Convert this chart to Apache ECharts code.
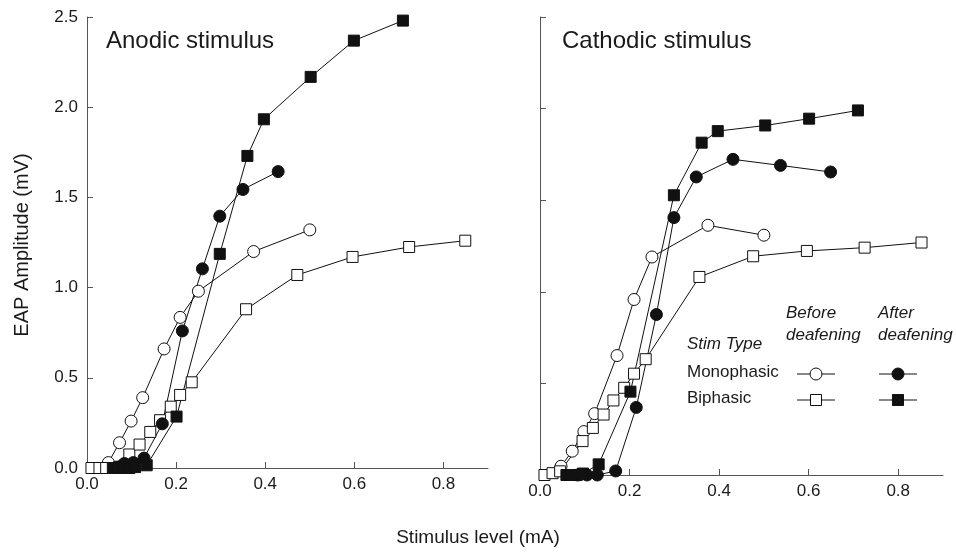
<!DOCTYPE html>
<html>
<head>
<meta charset="utf-8">
<script src="https://cdn.jsdelivr.net/npm/echarts@6/dist/echarts.min.js"></script>
<style>
  html, body { margin: 0; padding: 0; background: #fff; }
  #chart { width: 956px; height: 555px; }
</style>
</head>
<body>
<div id="chart"></div>
<script>
// EAP amplitude (mV) vs stimulus level (mA), before / after deafening
const FONT = '"Liberation Sans", Arial, Helvetica, sans-serif';

const panelTitles = ['Anodic stimulus', 'Cathodic stimulus'];
const xTicks = [0, 0.2, 0.4, 0.6, 0.8];
const yTicks = [0, 0.5, 1.0, 1.5, 2.0, 2.5];

// Anodic stimulus
const anodicMonoBefore = [[0.048, 0.03], [0.073, 0.14], [0.099, 0.26], [0.125, 0.39], [0.173, 0.66], [0.209, 0.835], [0.25, 0.98], [0.374, 1.2], [0.5, 1.32]];
const anodicBiBefore = [[0.01, 0], [0.028, 0], [0.043, 0], [0.095, 0.075], [0.118, 0.13], [0.142, 0.2], [0.164, 0.265], [0.188, 0.34], [0.209, 0.405], [0.235, 0.475], [0.357, 0.88], [0.472, 1.07], [0.596, 1.17], [0.723, 1.225], [0.849, 1.26]];
const anodicMonoAfter = [[0.066, 0.005], [0.084, 0.025], [0.104, 0.03], [0.128, 0.055], [0.169, 0.245], [0.214, 0.76], [0.259, 1.104], [0.298, 1.396], [0.35, 1.544], [0.429, 1.643]];
const anodicBiAfter = [[0.058, 0], [0.07, 0], [0.082, 0], [0.095, 0], [0.108, 0.005], [0.134, 0.015], [0.201, 0.285], [0.298, 1.187], [0.36, 1.73], [0.397, 1.933], [0.502, 2.168], [0.599, 2.369], [0.709, 2.48]];

// Cathodic stimulus
const cathodicMonoBefore = [[0.047, 0.048], [0.072, 0.13], [0.098, 0.237], [0.122, 0.335], [0.172, 0.652], [0.21, 0.958], [0.25, 1.19], [0.375, 1.363], [0.5, 1.309]];
const cathodicBiBefore = [[0.01, 0], [0.028, 0.01], [0.045, 0.02], [0.095, 0.185], [0.118, 0.257], [0.142, 0.33], [0.164, 0.407], [0.188, 0.476], [0.21, 0.553], [0.236, 0.632], [0.356, 1.081], [0.476, 1.194], [0.596, 1.223], [0.725, 1.241], [0.852, 1.269]];
const cathodicMonoAfter = [[0.084, 0], [0.105, 0], [0.128, 0], [0.169, 0.022], [0.215, 0.369], [0.26, 0.876], [0.299, 1.405], [0.349, 1.627], [0.431, 1.723], [0.537, 1.69], [0.649, 1.654]];
const cathodicBiAfter = [[0.059, 0], [0.07, 0], [0.082, 0], [0.096, 0.008], [0.131, 0.058], [0.202, 0.455], [0.299, 1.527], [0.361, 1.814], [0.397, 1.877], [0.503, 1.908], [0.601, 1.945], [0.71, 1.99]];

const legendRows = ['Monophasic', 'Biphasic'];
const legendCols = ['Before\ndeafening', 'After\ndeafening'];

const AXIS_COLOR = '#555';
const TEXT_COLOR = '#1a1a1a';

function makeX(gridIndex) {
  return {
    type: 'value', gridIndex, min: 0, max: 0.9,
    axisLine: { show: true, onZero: false, lineStyle: { color: AXIS_COLOR, width: 1 } },
    axisTick: { show: true, inside: true, length: 6, customValues: xTicks, lineStyle: { color: AXIS_COLOR } },
    axisLabel: { show: true, customValues: xTicks, formatter: v => v.toFixed(1), fontSize: 17, color: TEXT_COLOR, fontFamily: FONT, margin: 8 },
    splitLine: { show: false }
  };
}
function makeY(gridIndex, labels) {
  return {
    type: 'value', gridIndex, min: 0, max: 2.5, interval: 0.5,
    axisLine: { show: true, onZero: false, lineStyle: { color: AXIS_COLOR, width: 1 } },
    axisTick: { show: true, inside: true, length: 6, customValues: yTicks, lineStyle: { color: AXIS_COLOR } },
    axisLabel: { show: labels, customValues: yTicks, formatter: v => v.toFixed(1), fontSize: 17, color: TEXT_COLOR, fontFamily: FONT, margin: 9 },
    splitLine: { show: false }
  };
}

function curve(data, panel, shape, filled) {
  return {
    type: 'line', data, xAxisIndex: panel, yAxisIndex: panel,
    symbol: shape === 'circle' ? 'circle' : 'rect',
    symbolSize: shape === 'circle' ? 12 : 11,
    showSymbol: true,
    lineStyle: { color: '#111', width: 1 },
    itemStyle: { color: filled ? '#111' : '#fff', borderColor: '#111', borderWidth: 1 },
    emphasis: { disabled: true },
    animation: false
  };
}

const chart = echarts.init(document.getElementById('chart'), null, { renderer: 'canvas' });

// legend block drawn with graphic elements
const lg = [];
const colX = [786, 878];
legendCols.forEach((t, i) => {
  lg.push({ type: 'text', left: colX[i], top: 302, style: { text: t, font: 'italic 17px ' + FONT, fill: TEXT_COLOR, lineHeight: 22 } });
});
lg.push({ type: 'text', left: 687, top: 336, style: { text: 'Stim Type', font: 'italic 17px ' + FONT, fill: TEXT_COLOR } });
const rowY = [374, 400];
legendRows.forEach((t, r) => {
  lg.push({ type: 'text', left: 687, top: rowY[r] - 10, style: { text: t, font: '17px ' + FONT, fill: TEXT_COLOR } });
  [[816, false], [898, true]].forEach(([cx, filled]) => {
    lg.push({ type: 'line', shape: { x1: cx - 19, y1: rowY[r], x2: cx + 19, y2: rowY[r] }, style: { stroke: '#111', lineWidth: 1 } });
    if (r === 0) {
      lg.push({ type: 'circle', shape: { cx, cy: rowY[r], r: 6 }, style: { fill: filled ? '#111' : '#fff', stroke: '#111', lineWidth: 1 } });
    } else {
      lg.push({ type: 'rect', shape: { x: cx - 5.5, y: rowY[r] - 5.5, width: 11, height: 11 }, style: { fill: filled ? '#111' : '#fff', stroke: '#111', lineWidth: 1 } });
    }
  });
});

const option = {
  backgroundColor: '#fff',
  animation: false,
  grid: [
    { left: 87, top: 17, width: 401, height: 451 },
    { left: 540, top: 17, width: 403, height: 458 }
  ],
  xAxis: [makeX(0), makeX(1)],
  yAxis: [makeY(0, true), makeY(1, false)],
  series: [
    curve(anodicMonoBefore, 0, 'circle', false),
    curve(anodicBiBefore, 0, 'rect', false),
    curve(anodicMonoAfter, 0, 'circle', true),
    curve(anodicBiAfter, 0, 'rect', true),
    curve(cathodicMonoBefore, 1, 'circle', false),
    curve(cathodicBiBefore, 1, 'rect', false),
    curve(cathodicMonoAfter, 1, 'circle', true),
    curve(cathodicBiAfter, 1, 'rect', true)
  ],
  graphic: [
    { type: 'text', left: 106, top: 29, style: { text: panelTitles[0], font: '24px ' + FONT, fill: TEXT_COLOR } },
    { type: 'text', left: 562, top: 29, style: { text: panelTitles[1], font: '24px ' + FONT, fill: TEXT_COLOR } },
    { type: 'text', x: 22, y: 245, rotation: Math.PI / 2, style: { text: 'EAP Amplitude (mV)', font: '20px ' + FONT, fill: TEXT_COLOR, align: 'center', verticalAlign: 'middle' } },
    { type: 'text', x: 478, y: 538, style: { text: 'Stimulus level (mA)', font: '19px ' + FONT, fill: TEXT_COLOR, align: 'center', verticalAlign: 'middle' } },
    ...lg
  ]
};
chart.setOption(option);
</script>
</body>
</html>
